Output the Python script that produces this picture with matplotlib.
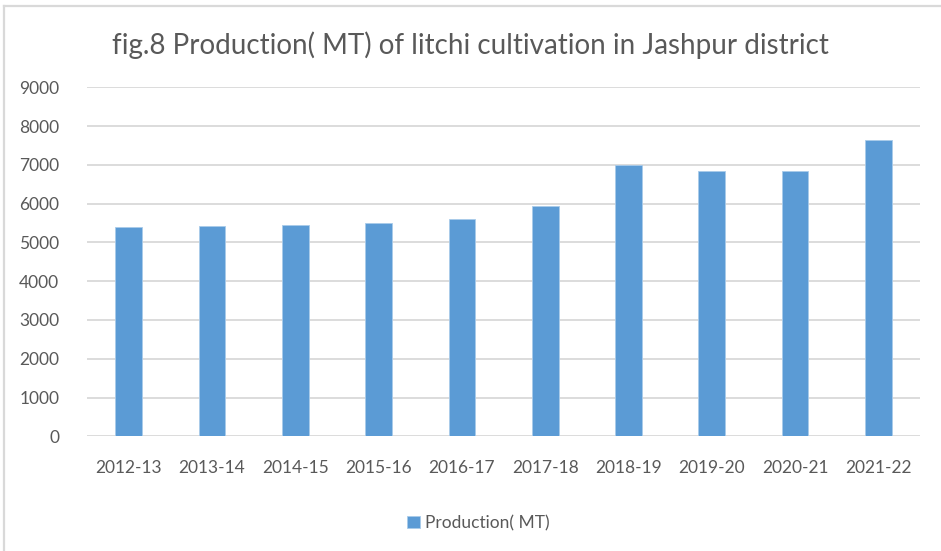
import matplotlib.pyplot as plt
from matplotlib.lines import Line2D

years = ["2012-13", "2013-14", "2014-15", "2015-16", "2016-17",
         "2017-18", "2018-19", "2019-20", "2020-21", "2021-22"]
production = [5395, 5430, 5455, 5500, 5600, 5930, 7000, 6840, 6840, 7650]
yticks = list(range(0, 9001, 1000))

plt.rcParams['font.family'] = ['Lato', 'DejaVu Sans']

fig = plt.figure(figsize=(9.41, 5.51), dpi=100)
ax = fig.add_axes([0.0925, 0.2082, 0.8852, 0.6334])

x = range(len(years))
ax.bar(x, production, width=0.32, color='#5B9BD5', edgecolor='#A9CBEA',
       linewidth=0.6, zorder=3, label='Production( MT)')

ax.set_xlim(-0.5, len(years) - 0.5)
ax.set_ylim(0, 9000)
ax.set_yticks(yticks)
ax.set_xticks(list(x))
ax.set_xticklabels(years)
ax.yaxis.grid(True, color='#D9D9D9', linewidth=1.3, zorder=0)
ax.set_axisbelow(True)
for s in ax.spines.values():
    s.set_visible(False)
ax.tick_params(axis='both', length=0, labelsize=12.5, labelcolor='#595959')
ax.tick_params(axis='x', pad=17)
ax.tick_params(axis='y', pad=20)

fig.text(0.5, 0.918, "fig.8 Production( MT) of litchi cultivation in Jashpur district",
         ha='center', va='center', fontsize=20, color='#595959')

fig.legend(loc='center', bbox_to_anchor=(0.508, 0.051), frameon=False,
           fontsize=12.5, labelcolor='#595959', handlelength=0.75,
           handleheight=0.75, handletextpad=0.3)

# outer chart border (only left and top visible in the crop)
fig.add_artist(Line2D([4 / 941, 4 / 941], [0, 1 - 6 / 551], transform=fig.transFigure,
                      color='#D9D9D9', linewidth=1.6))
fig.add_artist(Line2D([4 / 941, 1], [1 - 6 / 551, 1 - 6 / 551], transform=fig.transFigure,
                      color='#D9D9D9', linewidth=1.6))

fig.savefig('out.png', dpi=100)
